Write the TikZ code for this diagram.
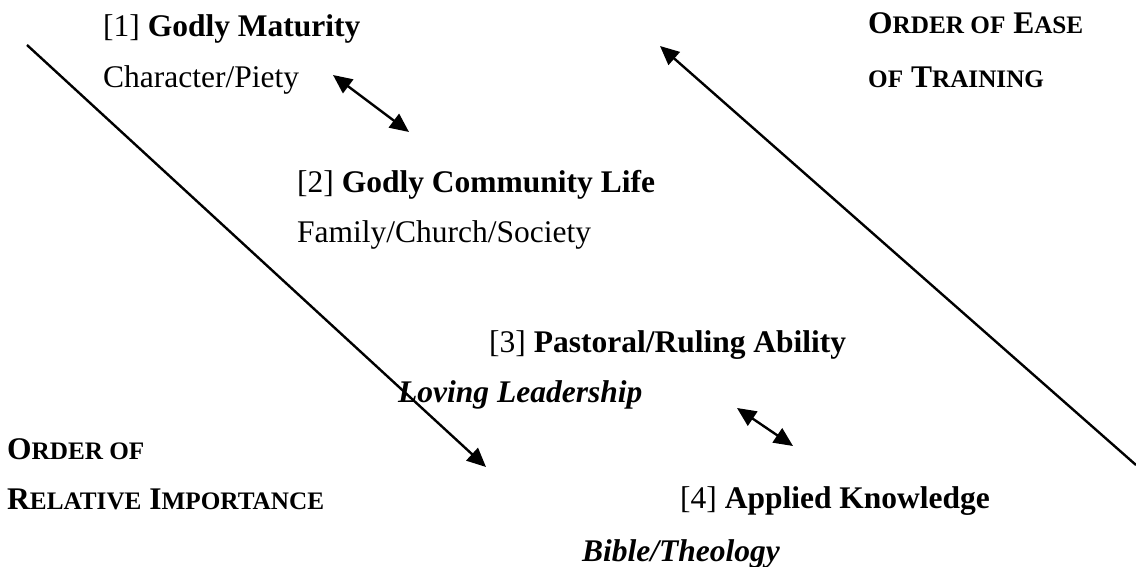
\documentclass[tikz,border=0pt]{standalone}
\usepackage{fontspec}
\setmainfont{Liberation Serif}
\usetikzlibrary{arrows.meta}
\newcommand{\smc}[1]{{\fontsize{25.2}{30}\selectfont #1}}
\begin{document}
\begin{tikzpicture}[x=1pt,y=-1pt,
  txt/.style={anchor=base west,inner sep=0pt,font=\fontsize{31.5}{38}\selectfont},
  conn/.style={line width=2.4pt},
  onetip/.style={-{Triangle[length=19pt,width=17pt]}},
  twotip/.style={{Triangle[length=19pt,width=17pt]}-{Triangle[length=19pt,width=17pt]}}]
\useasboundingbox (0,0) rectangle (1136,567);
% texts
\node[txt] (t1)  at (103,37)  {[1] \textbf{Godly Maturity}};
\node[txt] (s1)  at (103,88)  {Character/Piety};
\node[txt] (t2)  at (297,193) {[2] \textbf{Godly Community Life}};
\node[txt] (s2)  at (297,243) {Family/Church/Society};
\node[txt] (t3)  at (489,352) {[3] \textbf{Pastoral/Ruling Ability}};
\node[txt] (s3)  at (398,402) {\textbf{\textit{Loving Leadership}}};
\node[txt] (t4)  at (680,508) {[4] \textbf{Applied Knowledge}};
\node[txt] (s4)  at (582,561) {\textbf{\textit{Bible/Theology}}};
\node[txt] (oa)  at (7,459)   {\bfseries O\smc{RDER OF}};
\node[txt] (ob)  at (7,509)   {\bfseries R\smc{ELATIVE} I\smc{MPORTANCE}};
\node[txt] (ea)  at (868,34)  {\bfseries O\smc{RDER OF} E\smc{ASE}};
\node[txt] (eb)  at (868,88)  {\bfseries \smc{OF} T\smc{RAINING}};
% connector end points
\coordinate (impS) at (27,45);
\coordinate (impE) at (486,467);
\coordinate (easS) at (1136,465);
\coordinate (easE) at (660,46);
\coordinate (d1a) at (333,75);
\coordinate (d1b) at (409,132);
\coordinate (d2a) at (737,408);
\coordinate (d2b) at (793,446);
% connectors
\draw[conn,onetip] (impS) -- (impE);
\draw[conn,onetip] (easS) -- (easE);
\draw[conn,twotip] (d1a) -- (d1b);
\draw[conn,twotip] (d2a) -- (d2b);
\end{tikzpicture}
\end{document}
